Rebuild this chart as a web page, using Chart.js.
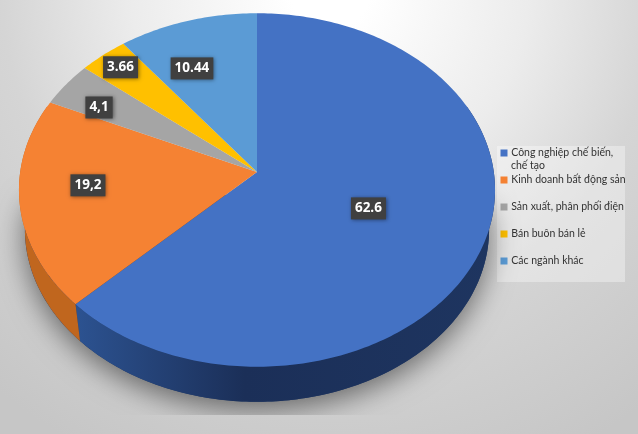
<!DOCTYPE html>
<html>
<head>
<meta charset="utf-8">
<style>
  html, body { margin: 0; padding: 0; background: #d6d6d6; }
  canvas { display: block; }
</style>
<script src="https://cdn.jsdelivr.net/npm/chart.js@4"></script>
</head>
<body>
<canvas id="chart" width="638" height="434"></canvas>
<script>
const categories = [
  "Công nghiệp chế biến, chế tạo",
  "Kinh doanh bất động sản",
  "Sản xuất, phân phối điện",
  "Bán buôn bán lẻ",
  "Các ngành khác"
];
const values = [62.6, 19.2, 4.1, 3.66, 10.44];
const valueLabels = ["62.6", "19,2", "4,1", "3.66", "10.44"];
const topColors = ["#4472c4", "#f58233", "#a5a5a5", "#ffc000", "#5b9bd5"];
const sideColors = ["#1f3864", "#c0661e", "#6e6e6e", "#b08600", "#3a6f9f"];

// the pie is tilted: the centre sits above the middle of the outline
const view = { x: 257, y: 172, rx: 236.8, ry: 174.9, tilt: -0.1017, shrink: 0.975, drop: 44.25 };
const labelReach = [0.5, 0.72, 0.82, 0.88, 0.7];
const labelNudge = [[0, 2], [1, -9], [0, 8], [0, -1], [-15, 5]];

function project(angle, reach) {
  const u = Math.cos(angle) * reach;
  const v = Math.sin(angle) * reach;
  const d = 1 + view.tilt * v;
  return [view.x + view.rx * u / d, view.y + view.ry * v / d];
}

function outline(ctx, from, to, lower) {
  const steps = Math.max(2, Math.ceil(Math.abs(to - from) * 60));
  for (let i = 0; i <= steps; i++) {
    const p = project(from + (to - from) * i / steps, 1);
    if (lower) ctx.lineTo(view.x + (p[0] - view.x) * view.shrink, p[1] * view.shrink + view.drop);
    else ctx.lineTo(p[0], p[1]);
  }
}

const tiltedPie = {
  id: "tiltedPie",
  beforeDraw(chart) {
    const { ctx, width, height } = chart;
    const bg = ctx.createRadialGradient(330, -10, 40, 330, -10, 520);
    bg.addColorStop(0, "#ffffff");
    bg.addColorStop(0.33, "#ececec");
    bg.addColorStop(0.6, "#d5d5d5");
    bg.addColorStop(1, "#c6c6c6");
    ctx.fillStyle = bg;
    ctx.fillRect(0, 0, width, height);
    ctx.fillStyle = "rgba(255,255,255,0.35)";
    ctx.fillRect(497, 146, 128, 136);
  },
  beforeDatasetsDraw(chart) {
    const { ctx } = chart;
    const arcs = chart.getDatasetMeta(0).data;

    // soft shadow under the body, cut off near the bottom like the source image
    ctx.save();
    ctx.beginPath();
    ctx.rect(0, 0, chart.width, 415);
    ctx.clip();
    ctx.shadowColor = "rgba(0,0,0,0.5)";
    ctx.shadowBlur = 28;
    ctx.shadowOffsetY = 8;
    ctx.fillStyle = "#1f3864";
    ctx.beginPath();
    outline(ctx, -0.1, Math.PI + 0.1, true);
    ctx.closePath();
    ctx.fill();
    ctx.restore();

    // side wall, front half only
    arcs.forEach((arc, i) => {
      const from = Math.max(arc.startAngle, -0.4);
      const to = Math.min(arc.endAngle, Math.PI + 0.4);
      if (to <= from) return;
      let fill = sideColors[i];
      if (i === 0) {
        fill = ctx.createLinearGradient(78, 0, 495, 0);
        fill.addColorStop(0, "#2c5290");
        fill.addColorStop(0.4, "#1b2f58");
        fill.addColorStop(1, "#1e3560");
      }
      ctx.fillStyle = fill;
      ctx.beginPath();
      outline(ctx, from, to, false);
      outline(ctx, to, from, true);
      ctx.closePath();
      ctx.fill();
    });

    // top face
    arcs.forEach((arc, i) => {
      ctx.fillStyle = topColors[i];
      ctx.beginPath();
      ctx.moveTo(view.x, view.y);
      outline(ctx, arc.startAngle, arc.endAngle, false);
      ctx.closePath();
      ctx.fill();
    });

    // value labels
    ctx.font = "bold 13.5px 'Open Sans'";
    ctx.textAlign = "center";
    ctx.textBaseline = "middle";
    arcs.forEach((arc, i) => {
      const p = project((arc.startAngle + arc.endAngle) / 2, labelReach[i]);
      const x = p[0] + labelNudge[i][0];
      const y = p[1] + labelNudge[i][1];
      const w = ctx.measureText(valueLabels[i]).width + 8;
      ctx.save();
      ctx.shadowColor = "rgba(0,0,0,0.45)";
      ctx.shadowBlur = 4;
      ctx.shadowOffsetX = 1;
      ctx.shadowOffsetY = 1;
      ctx.fillStyle = "#404040";
      ctx.fillRect(x - w / 2, y - 11, w, 22);
      ctx.restore();
      ctx.fillStyle = "#ffffff";
      ctx.fillText(valueLabels[i], x, y);
    });
    return false;
  },
  afterLayout(chart) {
    const legend = chart.legend;
    legend.left = 485.5;
    legend.right = 638;
    legend.top = 131.25;
    legend.bottom = 434;
  },
  afterDraw(chart) {
    // Chart.js legend rows are even, the wrapped second line of row one is not
    const { ctx } = chart;
    ctx.font = "10.5px Lato";
    ctx.fillStyle = "#333333";
    ctx.textAlign = "left";
    ctx.textBaseline = "middle";
    ctx.fillText("chế tạo", 511, 166);
  }
};

new Chart(document.getElementById("chart"), {
  type: "pie",
  data: {
    labels: categories,
    datasets: [{ data: values, backgroundColor: topColors, borderWidth: 0 }]
  },
  options: {
    responsive: false,
    animation: false,
    layout: { padding: { left: 20, top: 13, bottom: 30 } },
    plugins: {
      tooltip: { enabled: false },
      legend: {
        position: "right",
        align: "start",
        labels: {
          boxWidth: 4,
          boxHeight: 4,
          padding: 16.5,
          color: "#333333",
          font: { family: "Lato", size: 10.5 },
          generateLabels(chart) {
            return categories.map((name, i) => ({
              text: i === 0 ? "Công nghiệp chế biến," : name,
              fillStyle: topColors[i],
              strokeStyle: topColors[i],
              lineWidth: 3,
              fontColor: "#333333",
              index: i
            }));
          }
        }
      }
    }
  },
  plugins: [tiltedPie]
});
</script>
</body>
</html>
